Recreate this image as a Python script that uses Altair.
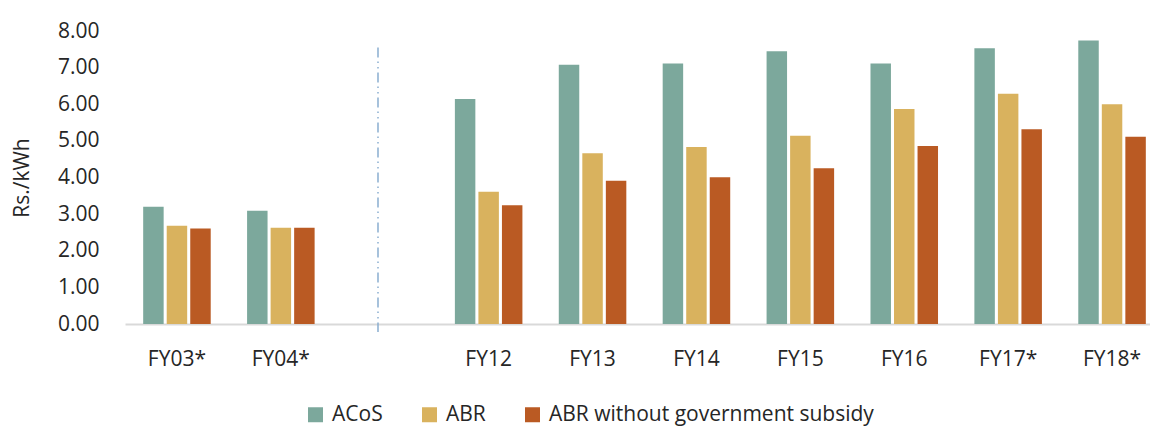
import altair as alt
import pandas as pd

# ---- data ----
categories = ["FY03*", "FY04*", "FY12", "FY13", "FY14", "FY15", "FY16", "FY17*", "FY18*"]
axis_slots = ["FY03*", "FY04*", " ", "FY12", "FY13", "FY14", "FY15", "FY16", "FY17*", "FY18*"]
acos = [3.20, 3.09, 6.14, 7.08, 7.11, 7.45, 7.11, 7.53, 7.74]
abr = [2.68, 2.63, 3.61, 4.66, 4.83, 5.14, 5.87, 6.29, 6.00]
abr_wo_subsidy = [2.61, 2.63, 3.24, 3.91, 4.01, 4.25, 4.86, 5.32, 5.11]
series_names = ["ACoS", "ABR", "ABR without government subsidy"]
series_colors = ["#7ca89c", "#d9b25e", "#ba5a23"]
y_ticks = [0, 1, 2, 3, 4, 5, 6, 7, 8]
separator_slot = [" "]
separator_top = [7.55]
separator_bottom = [-0.22]

rows = []
for name, vals in zip(series_names, [acos, abr, abr_wo_subsidy]):
    for c, v in zip(categories, vals):
        rows.append({"cat": c, "series": name, "value": v})
df = pd.DataFrame(rows)
sep = pd.DataFrame({"cat": separator_slot, "top": separator_top, "bottom": separator_bottom})

TEXT = "#262626"
FONT_SIZE = 21

x_scale = alt.Scale(domain=axis_slots, range=[0, 1039], paddingInner=0.35, paddingOuter=0.175)
y_scale = alt.Scale(domain=[0, 8], nice=False, zero=True)

x_axis = alt.Axis(title=None, labelAngle=0, ticks=False, domainColor="#d9d9d9",
                  domainWidth=2, labelFontSize=FONT_SIZE, labelColor=TEXT,
                  labelPadding=24)
y_axis = alt.Axis(title="Rs./kWh", values=y_ticks, format=".2f",
                  grid=False, domain=False, ticks=False, labelFontSize=FONT_SIZE,
                  labelOverlap=False, labelFlush=False,
                  labelColor=TEXT, labelPadding=26, titleFontSize=FONT_SIZE,
                  titleFontWeight="normal", titleColor=TEXT, titlePadding=25)

bars = alt.Chart(df).mark_bar().encode(
    x=alt.X("cat:N", scale=x_scale, sort=axis_slots, axis=x_axis),
    xOffset=alt.XOffset("series:N", scale=alt.Scale(domain=series_names, paddingInner=0.13,
                                                     paddingOuter=0)),
    y=alt.Y("value:Q", scale=y_scale, axis=y_axis),
    color=alt.Color("series:N", scale=alt.Scale(domain=series_names, range=series_colors),
                    legend=alt.Legend(title=None, orient="none", direction="horizontal",
                                      legendX=180, legendY=373, symbolType="square",
                                      symbolSize=225, symbolStrokeWidth=0,
                                      labelFontSize=FONT_SIZE, labelColor=TEXT,
                                      labelLimit=600,
                                      labelOffset=6, columnPadding=36)),
)

separator = alt.Chart(sep).mark_rule(color="#8aaed0", strokeWidth=1.5,
                                     strokeDash=[10, 4, 1.5, 4, 1.5, 4]).encode(
    x=alt.X("cat:N", bandPosition=0.4, scale=x_scale, sort=axis_slots, axis=x_axis),
    y=alt.Y("top:Q", scale=y_scale, axis=y_axis),
    y2=alt.Y2("bottom"),
)

chart = alt.layer(bars, separator).properties(
    width=1025,
    height=293,
    autosize=alt.AutoSizeParams(type="none"),
    padding={"left": 125, "top": 31, "right": 0, "bottom": 103},
).configure(font="Open Sans").configure_view(stroke=None)

chart.save("out.html", embed_options={"renderer": "svg", "actions": False})
